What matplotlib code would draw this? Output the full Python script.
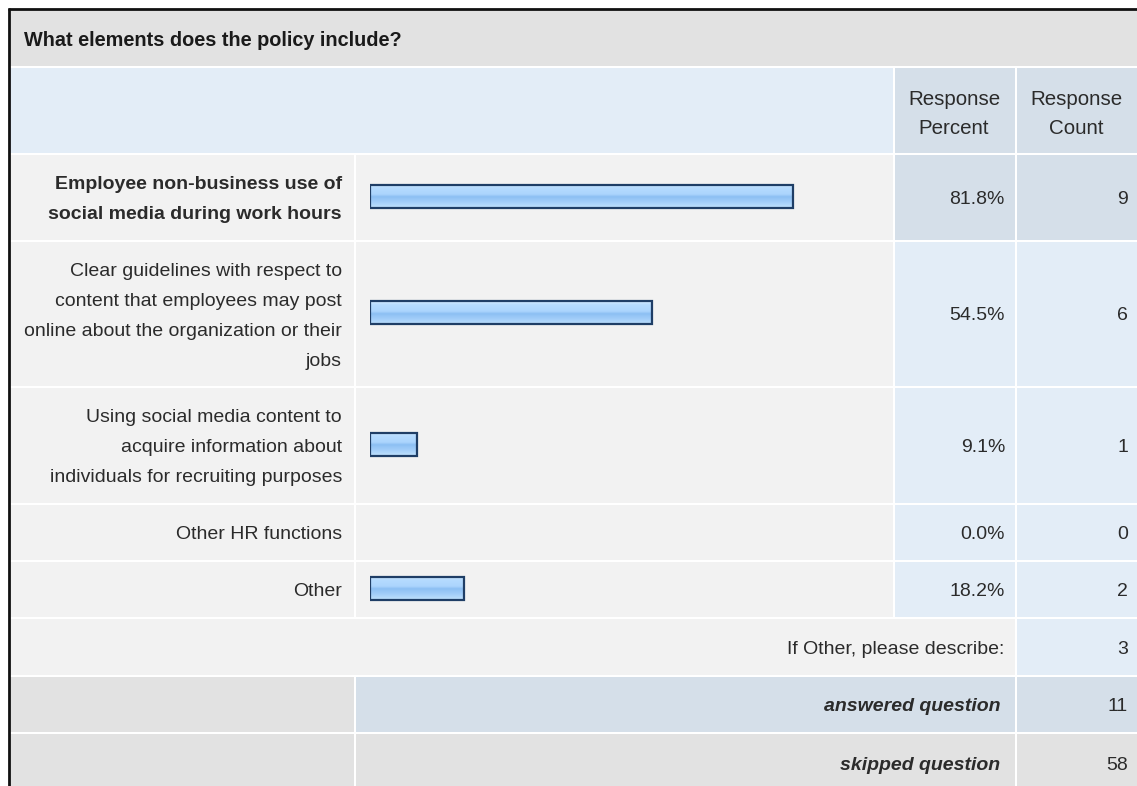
import matplotlib
matplotlib.use("Agg")
import matplotlib.pyplot as plt
import numpy as np
from matplotlib.patches import Rectangle
from matplotlib.colors import LinearSegmentedColormap

plt.rcParams['font.family'] = ['Liberation Sans', 'DejaVu Sans']

question = 'What elements does the policy include?'
choices = [
    ['Employee non-business use of', 'social media during work hours'],
    ['Clear guidelines with respect to', 'content that employees may post',
     'online about the organization or their', 'jobs'],
    ['Using social media content to', 'acquire information about',
     'individuals for recruiting purposes'],
    ['Other HR functions'],
    ['Other'],
]
percents = [81.8, 54.5, 9.1, 0.0, 18.2]
counts = [9, 6, 1, 0, 2]
other_label = 'If Other, please describe:'
other_count = 3
answered = 11
skipped = 58

# table geometry in pixels
W, H = 1137, 786
col_label = (10, 354)
col_bar = (356, 893)
col_pct = (895, 1015)
col_cnt = (1017, 1137)
title_row = (10, 66)
header_row = (68, 153)
choice_rows = [(155, 240), (242, 386), (388, 503), (505, 560), (562, 617)]
other_row = (619, 675)
answered_row = (677, 732)
skipped_row = (734, 790)
bar_left, bar_right = 370, 887
line_step = 30
dy = 2  # nudge text onto the row's visual centre

GREY = '#e2e2e2'
LIGHT = '#f2f2f2'
BLUE_L = '#e3edf7'
BLUE_D = '#d5dfe9'
TXT = '#2b2b2b'

fig = plt.figure(figsize=(W / 100, H / 100), dpi=100)
fig.patch.set_facecolor('white')
ax = fig.add_axes([0, 0, 1, 1])
ax.set_xlim(0, W)
ax.set_ylim(H, 0)
ax.axis('off')


def cell(cols, rows, color):
    ax.add_patch(Rectangle((cols[0], rows[0]), cols[1] - cols[0], rows[1] - rows[0],
                           facecolor=color, edgecolor='none', zorder=1))


def mid(r):
    return (r[0] + r[1]) / 2 + dy


# title + header
cell((10, W), title_row, GREY)
ax.text(24, mid(title_row) + 1, question, fontsize=14.3, fontweight='bold', color='#1a1a1a',
        ha='left', va='center', zorder=5)
cell((10, col_bar[1]), header_row, BLUE_L)
cell(col_pct, header_row, BLUE_D)
cell(col_cnt, header_row, BLUE_D)
for cols, sub in [(col_pct, 'Percent'), (col_cnt, 'Count')]:
    cx = mid(cols) - dy - 1
    ax.text(cx, mid(header_row) - 13, 'Response', fontsize=14.8, color=TXT, ha='center', va='center', zorder=5)
    ax.text(cx, mid(header_row) + 16, sub, fontsize=14.8, color=TXT, ha='center', va='center', zorder=5)

# choice rows
for i, (rows, lines, p, c) in enumerate(zip(choice_rows, choices, percents, counts)):
    dark = i == 0
    cell(col_label, rows, LIGHT)
    cell(col_bar, rows, LIGHT)
    cell(col_pct, rows, BLUE_D if dark else BLUE_L)
    cell(col_cnt, rows, BLUE_D if dark else BLUE_L)
    n = len(lines)
    for k, line in enumerate(lines):
        y = mid(rows) + (k - (n - 1) / 2) * line_step
        ax.text(342, y, line, fontsize=14, color=TXT, ha='right', va='center',
                fontweight='bold' if dark else 'normal', zorder=5)
    ax.text(1005, mid(rows), f'{p:.1f}%', fontsize=14, color=TXT, ha='right', va='center', zorder=5)
    ax.text(1128, mid(rows), str(c), fontsize=14, color=TXT, ha='right', va='center', zorder=5)

# other / answered / skipped
cell((10, col_pct[1]), other_row, LIGHT)
cell(col_cnt, other_row, BLUE_L)
ax.text(1004, mid(other_row), other_label, fontsize=14, color=TXT, ha='right', va='center', zorder=5)
ax.text(1128, mid(other_row), str(other_count), fontsize=14, color=TXT, ha='right', va='center', zorder=5)

cell(col_label, answered_row, GREY)
cell((col_bar[0], col_pct[1]), answered_row, BLUE_D)
cell(col_cnt, answered_row, BLUE_D)
ax.text(1000, mid(answered_row), 'answered question', fontsize=14, fontweight='bold', style='italic',
        color=TXT, ha='right', va='center', zorder=5)
ax.text(1128, mid(answered_row), str(answered), fontsize=14, color=TXT, ha='right', va='center', zorder=5)

cell(col_label, skipped_row, GREY)
cell((col_bar[0], col_pct[1]), skipped_row, GREY)
cell(col_cnt, skipped_row, GREY)
ax.text(1000, mid(skipped_row) + 2, 'skipped question', fontsize=14, fontweight='bold', style='italic',
        color=TXT, ha='right', va='center', zorder=5)
ax.text(1128, mid(skipped_row) + 2, str(skipped), fontsize=14, color=TXT, ha='right', va='center', zorder=5)

# outer border (left and top)
ax.plot([9, 9], [8, H], color='#111111', lw=2, solid_capstyle='butt', zorder=6)
ax.plot([8, W], [9, 9], color='#111111', lw=2, solid_capstyle='butt', zorder=6)

# bar area: its own axes in percent units
bax = fig.add_axes([bar_left / W, 0, (bar_right - bar_left) / W, 1])
bax.set_xlim(0, 100)
bax.set_ylim(H, 0)
bax.axis('off')
bax.patch.set_alpha(0)

centers = [(r[0] + r[1]) / 2 - 1.5 for r in choice_rows]
shown = [(y, p) for y, p in zip(centers, percents) if p > 0]
bars = bax.barh([y for y, _ in shown], [p for _, p in shown], left=0, height=23,
                facecolor='none', edgecolor='#1f3e66', linewidth=1.6, zorder=4)

grad_cmap = LinearSegmentedColormap.from_list('barfill', [
    (0.0, '#d6ecff'), (0.15, '#b6dcff'), (0.45, '#abd4fd'),
    (0.55, '#8cbff3'), (0.8, '#a4cff9'), (1.0, '#bcdffd')])
grad = np.linspace(0, 1, 64).reshape(-1, 1)
for b in bars:
    x0, y0 = b.get_x(), b.get_y()
    x1, y1 = x0 + b.get_width(), y0 + b.get_height()
    im = bax.imshow(grad, extent=[x0, x1, y1, y0], aspect='auto', cmap=grad_cmap,
                    interpolation='bilinear', zorder=3)
    im.set_clip_path(b)
bax.set_xlim(0, 100)
bax.set_ylim(H, 0)

fig.savefig('out.png', dpi=100)
